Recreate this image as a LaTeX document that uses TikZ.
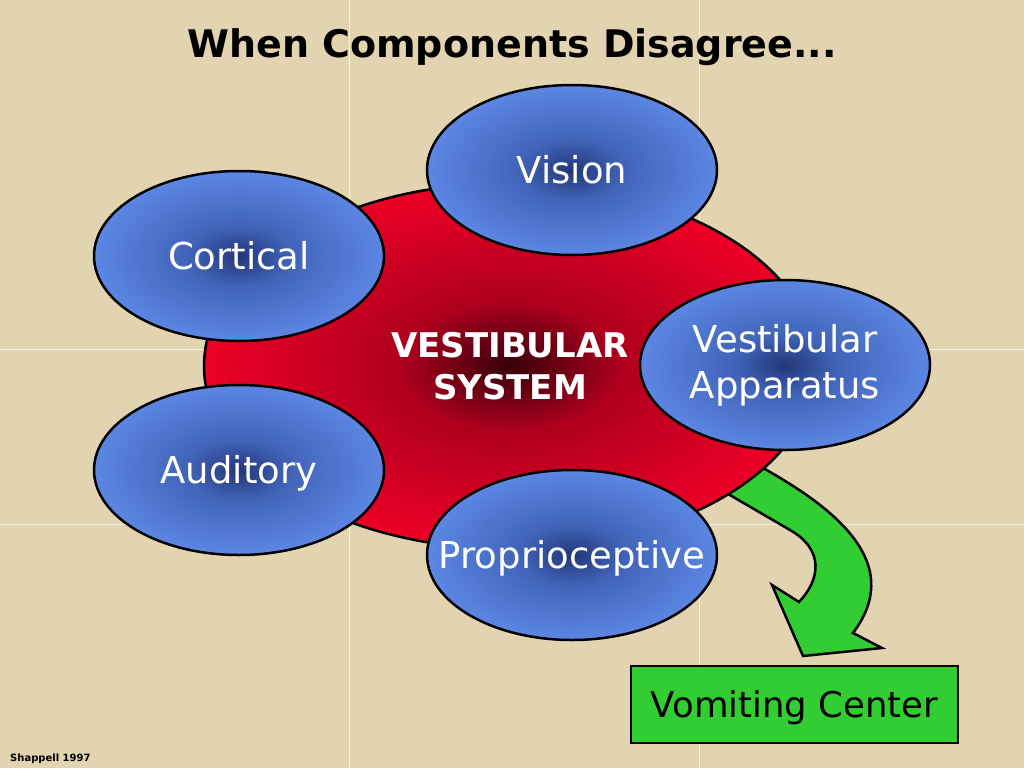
\documentclass[tikz,border=0pt]{standalone}
\usepackage{fontspec}
\setmainfont{DejaVu Sans}
\usetikzlibrary{shapes.geometric}
\definecolor{bgcol}{RGB}{226,212,176}
\definecolor{bluelight}{RGB}{100,145,240}
\definecolor{bluemid}{RGB}{65,100,185}
\definecolor{bluedark}{RGB}{35,55,120}
\definecolor{redlight}{RGB}{250,0,40}
\definecolor{redmid}{RGB}{175,0,30}
\definecolor{reddark}{RGB}{55,0,10}
\definecolor{greenfill}{RGB}{50,205,50}
\pgfdeclareradialshading{blueglow}{\pgfpoint{0bp}{0bp}}{color(0bp)=(bluedark); color(9bp)=(bluemid); color(30bp)=(bluelight); color(50bp)=(bluelight)}
\pgfdeclareradialshading{redglow}{\pgfpoint{0bp}{0bp}}{color(0bp)=(reddark); color(9bp)=(redmid); color(28bp)=(redlight); color(50bp)=(redlight)}
\tikzset{
  bubble/.style={ellipse, draw=black, line width=2.5pt, shading=blueglow,
    minimum width=290pt, minimum height=170pt, inner sep=0pt, text=white,
    font=\fontsize{37}{46}\selectfont},
  oneline/.style={text height=27pt, text depth=0pt},
  core/.style={ellipse, draw=black, line width=2.5pt, shading=redglow,
    minimum width=612pt, minimum height=366pt, inner sep=0pt, text=white,
    align=center, font=\bfseries\fontsize{34}{42}\selectfont},
  bigarrow/.style={draw=black, line width=2.5pt, fill=greenfill, line join=miter},
  centerbox/.style={draw=black, line width=2.5pt, fill=greenfill,
    minimum width=327pt, minimum height=77pt, inner sep=0pt,
    font=\fontsize{35.5}{40}\selectfont, text height=26pt, text depth=0pt},
  gridline/.style={white, opacity=0.7, line width=1pt}
}
\begin{document}
\begin{tikzpicture}[x=1pt,y=-1pt]
\useasboundingbox (0,0) rectangle (1024,768);
\fill[bgcol] (0,0) rectangle (1024,768);
\draw[gridline] (349,0) -- (349,768);
\draw[gridline] (699,0) -- (699,768);
\draw[gridline] (0,349) -- (1024,349);
\draw[gridline] (0,524) -- (1024,524);
\node[anchor=base, font=\bfseries\fontsize{38}{40}\selectfont] (title) at (512,58) {When Components Disagree...};
% green block arrow
\draw[bigarrow] (705,480) -- (740,454) -- (770,472)
  .. controls (845,515) and (902,568) .. (853,633)
  -- (882,648) -- (803,656) -- (772,585) -- (799,602)
  .. controls (820,580) and (825,550) .. (790,530)
  -- (735,498) -- cycle;
\node[core] (vs) at (510,366) {\makebox[0pt]{VESTIBULAR}\\\makebox[0pt]{SYSTEM}};
\node[bubble, oneline] (cortical) at (239,256) {\makebox[0pt]{Cortical}};
\node[bubble, oneline] (vision) at (572,170) {\makebox[0pt]{Vision}};
\node[bubble, oneline] (auditory) at (239,470) {\makebox[0pt]{Auditory}};
\node[bubble, oneline] (proprio) at (572,555) {\makebox[0pt]{Proprioceptive}};
\node[bubble, align=center] (vestapp) at (785,365) {\makebox[0pt]{Vestibular}\\\makebox[0pt]{Apparatus}};
\node[centerbox] (vomit) at (794.5,704.5) {Vomiting Center};
\node[anchor=base west, font=\bfseries\fontsize{10}{12}\selectfont, inner sep=0pt] (credit) at (10,761) {Shappell 1997};
\end{tikzpicture}
\end{document}
